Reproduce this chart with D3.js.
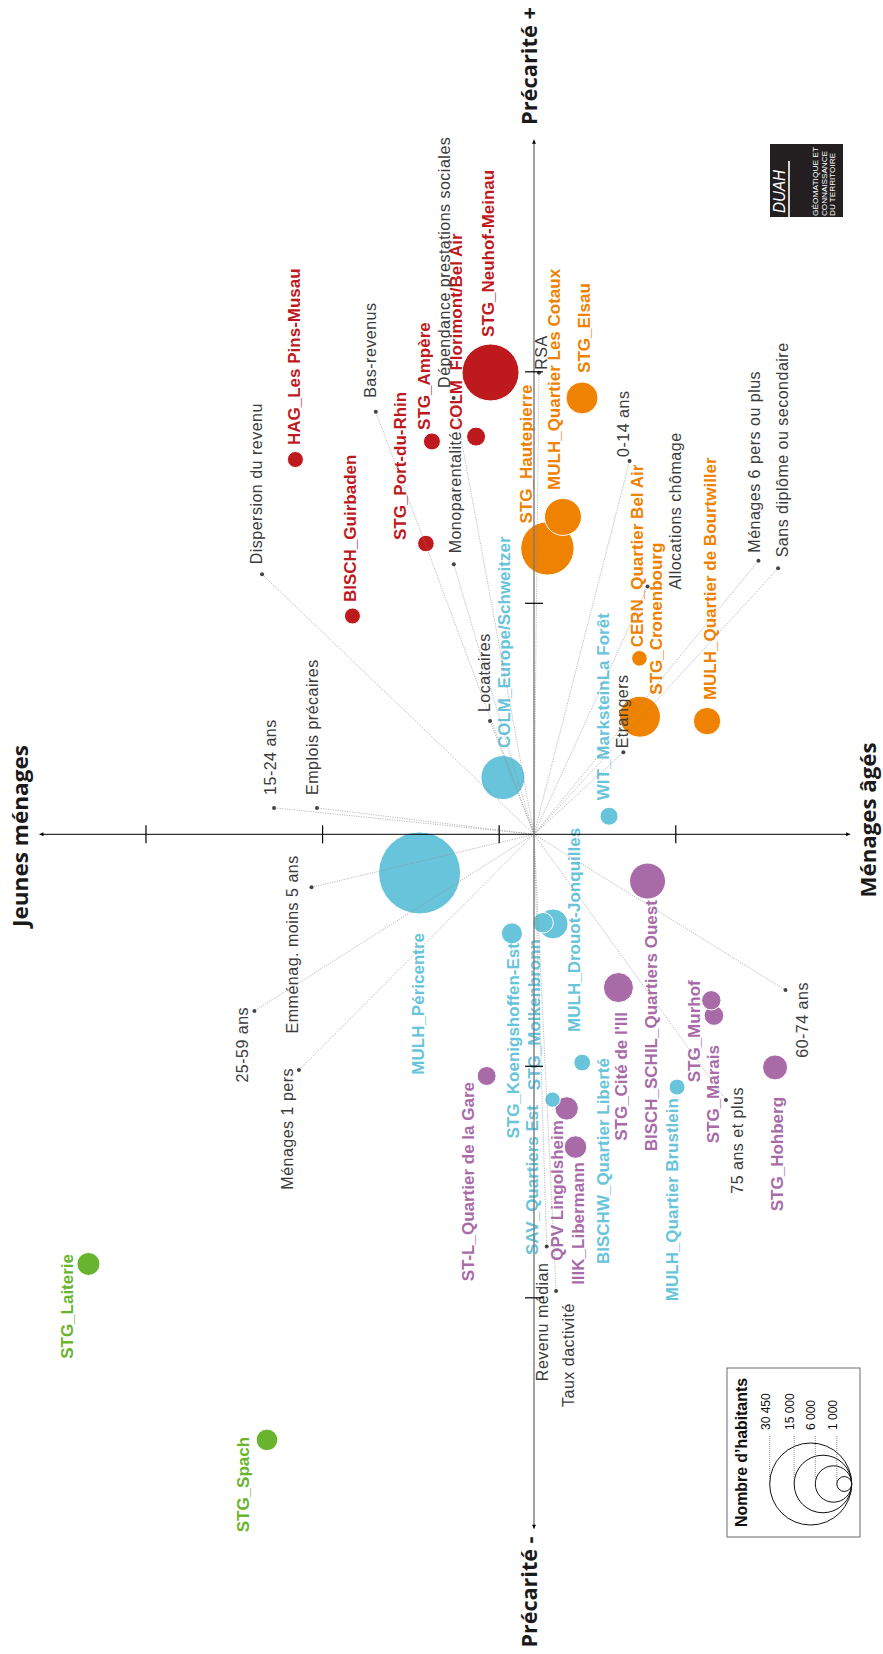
<!DOCTYPE html>
<html><head><meta charset="utf-8">
<script src="https://cdn.jsdelivr.net/npm/d3@7"></script>
<style>body{margin:0;background:#fff}svg{display:block}</style>
</head><body>
<svg id="chart" width="883" height="1654"></svg>
<script>
// ---------- DATA ----------
const quartiers = ["STG_Neuhof-Meinau","COLM_Florimont/Bel Air","STG_Ampère","STG_Port-du-Rhin","HAG_Les Pins-Musau","BISCH_Guirbaden",
"STG_Elsau","MULH_Quartier Les Cotaux","STG_Hautepierre","CERN_Quartier Bel Air","STG_Cronenbourg","MULH_Quartier de Bourtwiller",
"COLM_Europe/Schweitzer","WIT_MarksteinLa Forêt","MULH_Péricentre","STG_Koenigshoffen-Est","STG_Molkenbronn","MULH_Drouot-Jonquilles","SAV_Quartiers Est","BISCHW_Quartier Liberté","MULH_Quartier Brustlein",
"BISCH_SCHIL_Quartiers Ouest","STG_Cité de l'Ill","STG_Murhof","STG_Marais","STG_Hohberg","ST-L_Quartier de la Gare","QPV Lingolsheim","IllK_Libermann",
"STG_Laiterie","STG_Spach"];
const groupe = ["r","r","r","r","r","r","o","o","o","o","o","o","b","b","b","b","b","b","b","b","b","v","v","v","v","v","v","v","v","g","g"];
const precarite = [1.995,1.718,1.697,1.256,1.619,0.943,1.885,1.371,1.235,0.760,0.508,0.489,0.245,0.078,-0.167,-0.428,-0.382,-0.387,-1.146,-0.986,-1.092,-0.202,-0.662,-0.717,-0.783,-1.007,-1.044,-1.184,-1.351,-1.856,-2.616];
const ageMenages = [-0.246,-0.328,-0.578,-0.612,-1.351,-1.028,0.272,0.164,0.076,0.597,0.600,0.980,-0.176,0.425,-0.648,-0.125,0.051,0.108,0.105,0.273,0.810,0.643,0.478,1.004,1.019,1.365,-0.268,0.185,0.235,-2.523,-1.512];
const habitants = [14700,1630,1310,1250,1160,1160,4640,6200,12900,1100,7600,3400,8770,1470,30450,2000,1920,4080,1070,1280,1160,5870,4080,1700,1740,2830,1630,2480,2310,2400,2110];

const variables = ["Dispersion du revenu","Bas-revenus","Dépendance prestations sociales","RSA","Monoparentalité","0-14 ans","Allocations chômage","Ménages 6 pers ou plus","Sans diplôme ou secondaire","Locataires","Etrangers","15-24 ans","Emplois précaires","Emménag. moins 5 ans","25-59 ans","Ménages 1 pers","60-74 ans","75 ans et plus","Revenu médian","Taux dactivité"];
const varPrecarite = [1.123,1.825,1.885,1.994,1.166,1.613,1.070,1.182,1.149,0.489,0.354,0.114,0.114,-0.229,-0.763,-1.018,-0.673,-1.148,-1.781,-1.973];
const varAge = [-1.540,-0.896,-0.455,0.028,-0.454,0.541,0.643,1.271,1.382,-0.249,0.506,-1.472,-1.229,-1.260,-1.583,-1.331,1.424,1.087,0.072,0.125];

const ageTicks = [-2.2,-1.2,-0.2,0.8];
const precTicks = [-2,-1,1,2];
const ageExtent = [-2.8,1.79];
const precExtent = [-3,3];
const legendValues = [30450,15000,6000,1000];
const legendLabels = ["30 450","15 000","6 000","1 000"];

// ---------- STYLE / LAYOUT ----------
const colors = {r:"#be1a1e",o:"#ef8200",b:"#67c4da",v:"#a86ba8",g:"#69b42e"};
// label nudges [dx(baseline), dy, anchor] relative to mark centre
const bubbleLabelPos = [[3.5,-35.5,"start"],[-14,-6.5,"start"],[-2,-11.5,"start"],[-20,-3.5,"start"],[4.5,-14.5,"start"],[3.5,-14,"start"],
[8,-25,"start"],[-3,-27,"start"],[-15.5,-25,"start"],[3.5,-11,"start"],[22,-22,"start"],[9,-21,"start"],
[7,-29.5,"start"],[0,-16,"start"],[4.5,60,"end"],[7,9.7,"end"],[-3,16.3,"end"],[27,6,"middle"],[-14.5,5.5,"end"],[27,-4.5,"end"],[1,11,"end"],
[9.5,19,"end"],[8.5,24.5,"end"],[-11,-20,"end"],[5,29.5,"end"],[8,29.5,"end"],[-12.7,6,"end"],[-3.7,11.7,"end"],[8.5,15,"end"],
[-15.5,-10,"end"],[-18,-3,"end"]];
const varLabelPos = [[0,-10,"start"],[0,-14,"start"],[-4,-10,"start"],[8,-3,"start"],[7,-11,"start"],[-1,-4,"start"],[33,3,"start"],[2,-8,"start"],[10,-11,"start"],[0,-9,"start"],[5,-4,"start"],[2,-13,"start"],[1,-13,"start"],
[-13,-32,"end"],[-6.5,-4,"end"],[-6,-2,"end"],[22.5,-8,"end"],[17,-13,"end"],[1,16,"end"],[18,12,"end"]];

const svg = d3.select("#chart");
const x = d3.scaleLinear().domain([0,1]).range([534,710.6]);      // age axis (horizontal)
const y = d3.scaleLinear().domain([0,1]).range([834.3,602.8]);    // précarité axis (vertical)
const r = d3.scaleSqrt().domain([0,30450]).range([0,41]);

const pts = quartiers.map((n,i)=>({name:n,g:groupe[i],a:ageMenages[i],p:precarite[i],pop:habitants[i],lp:bubbleLabelPos[i]}));
const vars = variables.map((n,i)=>({name:n,a:varAge[i],p:varPrecarite[i],lp:varLabelPos[i]}));

const SANS = "'Liberation Sans', Arial, sans-serif";

// bubbles (largest first)
svg.append("g").selectAll("circle").data(pts.slice().sort((a,b)=>b.pop-a.pop)).join("circle")
  .attr("cx",d=>x(d.a)).attr("cy",d=>y(d.p)).attr("r",d=>r(d.pop))
  .attr("fill",d=>colors[d.g]).attr("stroke","#fff").attr("stroke-width",1);

// bubble labels
svg.append("g").selectAll("text").data(pts).join("text")
  .attr("transform",d=>`translate(${x(d.a)+d.lp[0]},${y(d.p)+d.lp[1]}) rotate(-90)`)
  .attr("text-anchor",d=>d.lp[2])
  .attr("font-family",SANS).attr("font-weight","bold").attr("font-size",17)
  .attr("fill",d=>colors[d.g]).text(d=>d.name);

// variable vectors
svg.append("g").selectAll("line").data(vars).join("line")
  .attr("x1",x(0)).attr("y1",y(0)).attr("x2",d=>x(d.a)).attr("y2",d=>y(d.p))
  .attr("stroke","#8c8c8c").attr("stroke-width",0.6).attr("stroke-dasharray","1.2,1.2");
svg.append("g").selectAll("circle").data(vars).join("circle")
  .attr("cx",d=>x(d.a)).attr("cy",d=>y(d.p)).attr("r",2).attr("fill","#444");
svg.append("g").selectAll("text").data(vars).join("text")
  .attr("transform",d=>`translate(${x(d.a)+d.lp[0]},${y(d.p)+d.lp[1]}) rotate(-90)`)
  .attr("text-anchor",d=>d.lp[2])
  .attr("font-family",SANS).attr("font-size",16).attr("letter-spacing",0.5)
  .attr("fill","#3c3c3c").text(d=>d.name);

// ---------- AXES ----------
const axG = svg.append("g");
// horizontal (age)
axG.append("line").attr("x1",x(ageExtent[0])).attr("x2",x(ageExtent[1])).attr("y1",y(0)).attr("y2",y(0))
  .attr("stroke","#000").attr("stroke-width",1);
const hAxis = axG.append("g").attr("transform",`translate(0,${y(0)-9})`)
  .call(d3.axisBottom(x).tickValues(ageTicks).tickSize(18).tickFormat(""));
hAxis.select(".domain").remove();
hAxis.selectAll(".tick line").attr("stroke","#000").attr("stroke-width",1.2);
// vertical (précarité)
axG.append("line").attr("x1",x(0)).attr("x2",x(0)).attr("y1",y(precExtent[0])).attr("y2",y(precExtent[1]))
  .attr("stroke","#7a7a7a").attr("stroke-width",1.4);
const vAxis = axG.append("g").attr("transform",`translate(${x(0)-9},0)`)
  .call(d3.axisRight(y).tickValues(precTicks).tickSize(18).tickFormat(""));
vAxis.select(".domain").remove();
vAxis.selectAll(".tick line").attr("stroke","#000").attr("stroke-width",1.2);
// arrow heads
function arrow(px,py,dir){
  const s=4, w=2;
  let p;
  if(dir==="up") p=[[px,py],[px-w,py+s],[px+w,py+s]];
  if(dir==="down") p=[[px,py],[px-w,py-s],[px+w,py-s]];
  if(dir==="left") p=[[px,py],[px+s,py-w],[px+s,py+w]];
  if(dir==="right") p=[[px,py],[px-s,py-w],[px-s,py+w]];
  axG.append("path").attr("d","M"+p.map(q=>q.join(",")).join("L")+"Z").attr("fill","#000");
}
arrow(x(0),y(precExtent[1]),"up");
arrow(x(0),y(precExtent[0]),"down");
arrow(x(ageExtent[0]),y(0),"left");
arrow(x(ageExtent[1]),y(0),"right");

// axis titles
const TITLE = "'Open Sans', 'Liberation Sans', sans-serif";
function rtext(tx,ty,txt,size,len,anchor,weight,fill,fam,style){
  const t = svg.append("text").attr("transform",`translate(${tx},${ty}) rotate(-90)`)
    .attr("text-anchor",anchor||"middle").attr("font-family",fam||TITLE).attr("font-weight",weight||"bold")
    .attr("font-size",size).attr("fill",fill||"#1a1a1a").text(txt);
  if(style) t.attr("font-style",style);
  if(len) t.attr("textLength",len).attr("lengthAdjust","spacingAndGlyphs");
  return t;
}
rtext(28,836,"Jeunes ménages",21,182);
rtext(876,820,"Ménages âgés",21,155);
rtext(537,66,"Précarité +",21,118);
rtext(537,1592,"Précarité -",21,111);

// ---------- LEGEND ----------
const lg = svg.append("g");
lg.append("rect").attr("x",727).attr("y",1368).attr("width",133).attr("height",169)
  .attr("fill","#fff").attr("stroke","#6a6a6a").attr("stroke-width",1);
rtext(747,1527,"Nombre d\u2019habitants",15.8,149,"start","bold","#111",SANS);
const lgRight = 851.7, lgCy = 1484;
legendValues.forEach((v,i)=>{
  const rr = r(v), lx = lgRight-2*rr;
  lg.append("circle").attr("cx",lgRight-rr).attr("cy",lgCy).attr("r",rr)
    .attr("fill","none").attr("stroke","#111").attr("stroke-width",1);
  lg.append("line").attr("x1",lx).attr("x2",lx).attr("y1",1436).attr("y2",lgCy)
    .attr("stroke","#555").attr("stroke-width",0.7).attr("stroke-dasharray","1,1");
  rtext(lx,1430,legendLabels[i],12,null,"start","normal","#111",SANS);
});

// ---------- LOGO ----------
const lo = svg.append("g");
lo.append("rect").attr("x",770).attr("y",144).attr("width",73).attr("height",73).attr("fill","#231f20");
rtext(785,213,"DUAH",16,43,"start","normal","#fff",SANS,"italic");
lo.append("line").attr("x1",789).attr("x2",789).attr("y1",161).attr("y2",217).attr("stroke","#fff").attr("stroke-width",1.6);
rtext(818,216,"GÉOMATIQUE ET",7.5,69,"start","normal","#fff",SANS);
rtext(826.5,216,"CONNAISSANCE",7.5,65,"start","normal","#fff",SANS);
rtext(835,216,"DU  TERRITOIRE",7.5,63,"start","normal","#fff",SANS);
</script>
</body></html>
